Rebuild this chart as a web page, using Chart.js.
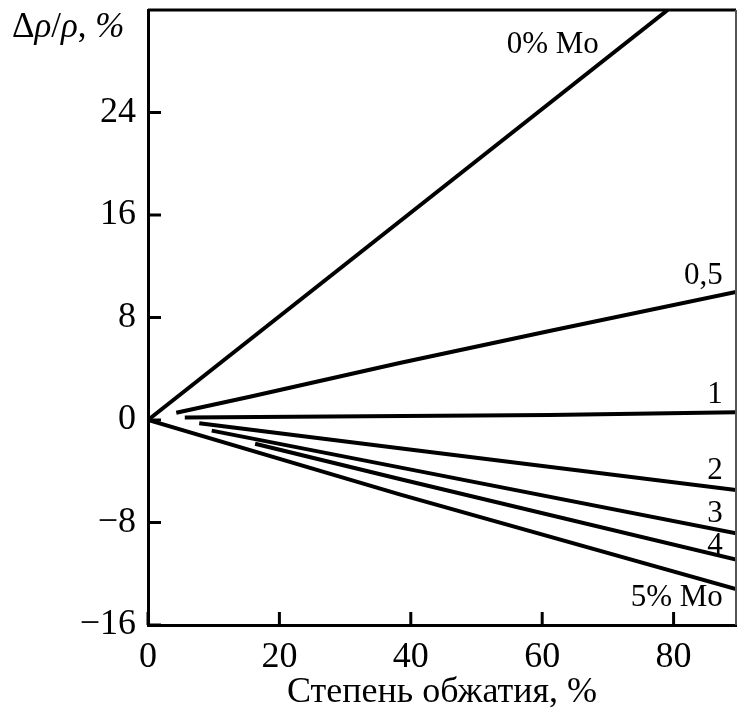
<!DOCTYPE html>
<html>
<head>
<meta charset="utf-8">
<script src="https://cdn.jsdelivr.net/npm/chart.js@4/dist/chart.umd.min.js"></script>
<style>
html,body{margin:0;padding:0;background:#fff;}
#wrap{width:737px;height:710px;}
</style>
</head>
<body>
<div id="wrap"><canvas id="c" width="737" height="710"></canvas></div>
<script>
// ---- data ----
const seriesNames = ["0% Mo", "0,5", "1", "2", "3", "4", "5% Mo"];
const s0_x = [0, 79.1];
const s0_y = [0, 32];
const s05_x = [4.3, 15.5, 38.3, 61.1, 89.5];
const s05_y = [0.57, 1.82, 4.45, 6.95, 10.0];
const s1_x = [5.6, 61.1, 89.5];
const s1_y = [0.19, 0.39, 0.6];
const s2_x = [7.8, 38.3, 89.5];
const s2_y = [-0.25, -2.2, -5.47];
const s3_x = [9.7, 38.3, 89.5];
const s3_y = [-0.83, -3.7, -8.85];
const s4_x = [16.3, 38.3, 89.5];
const s4_y = [-1.85, -4.6, -10.9];
const s5_x = [0, 38.3, 89.5];
const s5_y = [0, -5.8, -13.2];
const xTicks = [0, 20, 40, 60, 80];
const yTicks = [-16, -8, 0, 8, 16, 24];
const xTitle = "Степень обжатия, %";

const xs = [s0_x, s05_x, s1_x, s2_x, s3_x, s4_x, s5_x];
const ys = [s0_y, s05_y, s1_y, s2_y, s3_y, s4_y, s5_y];

// label anchors (data units) and alignment
const labelPos = [
  {x: 61.6, y: 29.3, align: 'center'},
  {x: 87.5, y: 11.25, align: 'right'},
  {x: 87.5, y: 1.95, align: 'right'},
  {x: 87.5, y: -4.0, align: 'right'},
  {x: 87.5, y: -7.35, align: 'right'},
  {x: 87.5, y: -9.8, align: 'right'},
  {x: 87.5, y: -13.85, align: 'right'}
];

const datasets = seriesNames.map((n, i) => ({
  label: n,
  data: xs[i].map((x, j) => ({x: x, y: ys[i][j]})),
  showLine: true,
  borderColor: '#000',
  borderWidth: 4,
  pointRadius: 0,
  fill: false,
  tension: 0,
  borderCapStyle: 'butt'
}));

const FONT = '"Liberation Serif", "Times New Roman", serif';

const decor = {
  id: 'decor',
  afterDraw(chart) {
    const ctx = chart.ctx;
    const xs_ = chart.scales.x, ys_ = chart.scales.y;
    const a = chart.chartArea;
    ctx.save();
    // frame: top and right
    ctx.strokeStyle = '#000';
    ctx.lineWidth = 3;
    ctx.beginPath();
    ctx.moveTo(a.left, a.top); ctx.lineTo(a.right, a.top);
    ctx.stroke();
    ctx.strokeStyle = '#555';
    ctx.lineWidth = 2;
    ctx.beginPath();
    ctx.moveTo(a.right, a.top); ctx.lineTo(a.right, a.bottom);
    ctx.stroke();
    // inward ticks
    ctx.strokeStyle = '#000';
    ctx.lineWidth = 3;
    yTicks.forEach(v => {
      const p = ys_.getPixelForValue(v);
      ctx.beginPath(); ctx.moveTo(a.left, p); ctx.lineTo(a.left + 13, p); ctx.stroke();
    });
    xTicks.forEach(v => {
      const p = xs_.getPixelForValue(v);
      ctx.beginPath(); ctx.moveTo(p, a.bottom); ctx.lineTo(p, a.bottom - 13); ctx.stroke();
    });
    // series labels
    ctx.fillStyle = '#000';
    ctx.font = '31px ' + FONT;
    ctx.textBaseline = 'middle';
    seriesNames.forEach((n, i) => {
      const lp = labelPos[i];
      ctx.textAlign = lp.align;
      ctx.fillText(n, xs_.getPixelForValue(lp.x), ys_.getPixelForValue(lp.y));
    });
    // y axis title: Δρ/ρ, %
    ctx.textAlign = 'left';
    ctx.textBaseline = 'alphabetic';
    const parts = [['Δ', false], ['ρ', true], ['/', false], ['ρ', true], [', ', false], ['%', true]];
    let x = 12;
    const yb = 37;
    parts.forEach(([t, it]) => {
      ctx.font = (it ? 'italic ' : '') + '35px ' + FONT;
      ctx.fillText(t, x, yb);
      x += ctx.measureText(t).width;
    });
    ctx.restore();
  }
};

new Chart(document.getElementById('c'), {
  type: 'scatter',
  data: {datasets},
  options: {
    responsive: false,
    animation: false,
    events: [],
    layout: {padding: {top: 10, right: 1, left: 0, bottom: 0}},
    plugins: {legend: {display: false}, tooltip: {enabled: false}},
    scales: {
      x: {
        type: 'linear', min: 0, max: 89.5,
        afterBuildTicks: s => { s.ticks = xTicks.map(v => ({value: v})); },
        afterFit: s => { s.height = 85; },
        grid: {display: true, drawOnChartArea: false, drawTicks: false},
        border: {display: true, color: '#000', width: 3},
        ticks: {color: '#000', font: {family: FONT, size: 36}, padding: 11, maxRotation: 0},
        title: {display: true, text: xTitle, color: '#000', font: {family: FONT, size: 36}, padding: {top: 0, bottom: -4}}
      },
      y: {
        type: 'linear', min: -16, max: 32,
        afterBuildTicks: s => { s.ticks = yTicks.map(v => ({value: v})); },
        afterFit: s => { s.width = 148; s.paddingTop = 0; s.paddingBottom = 0; },
        grid: {display: true, drawOnChartArea: false, drawTicks: false},
        border: {display: true, color: '#000', width: 3},
        ticks: {color: '#000', font: {family: FONT, size: 36}, padding: 12,
          callback: v => (v < 0 ? '\u2212' + Math.abs(v) : String(v))}
      }
    }
  },
  plugins: [decor]
});
</script>
</body>
</html>
